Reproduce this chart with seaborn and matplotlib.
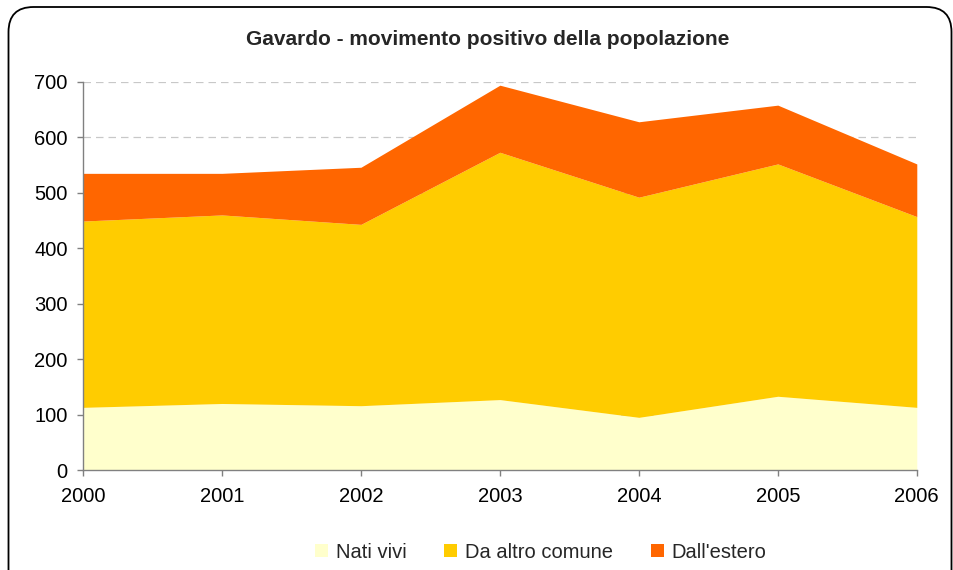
import matplotlib
matplotlib.use("Agg")
import matplotlib.pyplot as plt
from matplotlib.patches import FancyBboxPatch, Patch
import seaborn as sns
import pandas as pd

# valori
anni = [2000, 2001, 2002, 2003, 2004, 2005, 2006]
nati_vivi = [113, 120, 116, 127, 95, 133, 113]
da_altro_comune = [336, 340, 327, 446, 397, 419, 344]
dall_estero = [86, 75, 103, 121, 136, 106, 95]

serie = ["Nati vivi", "Da altro comune", "Dall'estero"]
colori = ["#FFFFCC", "#FFCC00", "#FF6600"]

data = pd.DataFrame({"anno": anni, serie[0]: nati_vivi,
                     serie[1]: da_altro_comune, serie[2]: dall_estero})

sns.set_theme(style="white")
plt.rcParams["font.family"] = ["Liberation Sans", "DejaVu Sans"]

fig = plt.figure(figsize=(9.54, 5.70), dpi=100)
ax = fig.add_axes([0.087, 0.1754, 0.874, 0.681])

ax.stackplot(data["anno"], [data[s] for s in serie], colors=colori,
             labels=serie, linewidth=0, zorder=2)

ax.set_xlim(2000, 2006)
ax.set_ylim(0, 700)
ax.set_xticks(anni)
ax.set_yticks(range(0, 701, 100))
ax.yaxis.grid(True, linestyle=(0, (6, 4)), color="#c8c8c8", linewidth=0.9, zorder=0)
ax.set_axisbelow(True)

for s in ["top", "right"]:
    ax.spines[s].set_visible(False)
for s in ["left", "bottom"]:
    ax.spines[s].set_color("#808080")
    ax.spines[s].set_linewidth(1)
    ax.spines[s].set_zorder(3)

ax.tick_params(axis="both", direction="out", length=4, width=1, color="#808080",
               labelsize=14.5, labelcolor="black", bottom=True, left=True)
ax.tick_params(axis="x", pad=8)
ax.tick_params(axis="y", pad=7)

fig.text(0.511, 0.93, "Gavardo - movimento positivo della popolazione",
         ha="center", va="center", fontsize=15, fontweight="bold")

handles = [Patch(facecolor=c, edgecolor="none") for c in colori]
fig.legend(handles, serie, loc="center", bbox_to_anchor=(0.567, 0.031), ncol=3,
           frameon=False, fontsize=14.5, handlelength=0.65, handleheight=0.65,
           handletextpad=0.4, columnspacing=1.85)

# cornice arrotondata (in pollici)
frame = FancyBboxPatch((0.085, -0.3), 9.43, 5.93, boxstyle="round,pad=0,rounding_size=0.25",
                       transform=fig.dpi_scale_trans, facecolor="none", edgecolor="black",
                       linewidth=1.3)
fig.patches.append(frame)

fig.savefig("out.png", dpi=100)
